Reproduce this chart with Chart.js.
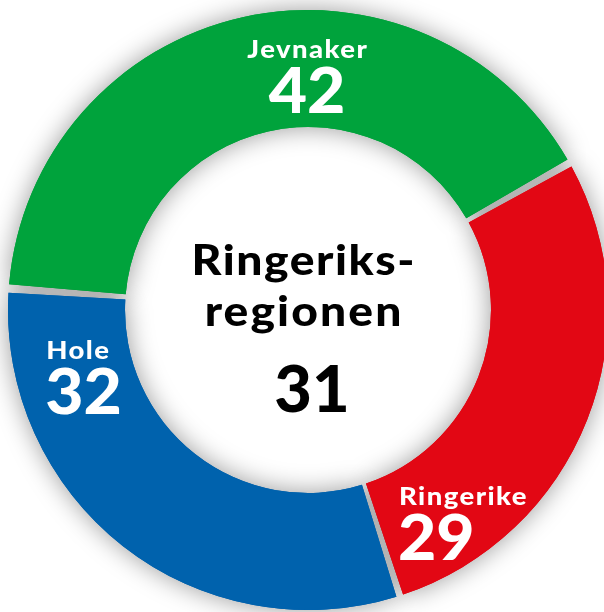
<!DOCTYPE html>
<html>
<head>
<meta charset="utf-8">
<script src="https://cdn.jsdelivr.net/npm/chart.js@4"></script>
<style>
    html, body { margin: 0; padding: 0; background: #fff; overflow: hidden; }
    #wrap { position: relative; width: 620px; height: 612px; }
</style>
</head>
<body>
<div id="wrap"><canvas id="ringChart"></canvas></div>
<script>
const categories = ['Jevnaker', 'Ringerike', 'Hole'];
const values = [42, 29, 32];
const segmentColors = ['#00a33c', '#e20714', '#0062ad'];
const centerLines = ['Ringeriks-', 'regionen'];
const centerValue = 31;

const FONT = 'Lato, "Open Sans", sans-serif';

// Skygge rundt ringen (tegnes under selve buene)
const shadowPlugin = {
    id: 'ringShadow',
    beforeDatasetsDraw(chart) {
        const ctx = chart.ctx;
        ctx.save();
        ctx.shadowColor = 'rgba(0,0,0,0.4)';
        ctx.shadowBlur = 26;
        chart.getDatasetMeta(0).data.forEach(arc => arc.draw(ctx));
        ctx.restore();
    }
};

// tekst med litt bredere bokstaver (skalert i x) og bokstavavstand
function wideText(ctx, text, x, y, font, spacing, sx, align) {
    ctx.save();
    ctx.translate(x, y);
    ctx.scale(sx, 1);
    ctx.font = font;
    ctx.letterSpacing = spacing + 'px';
    ctx.textAlign = align;
    ctx.fillText(text, align === 'center' ? spacing / 2 : 0, 0);
    ctx.restore();
}

// Etiketter i segmentene + tekst i midten
const labelPlugin = {
    id: 'ringLabels',
    afterDatasetsDraw(chart, args, opts) {
        const ctx = chart.ctx;
        const arc0 = chart.getDatasetMeta(0).data[0];
        const cx = arc0.x, cy = arc0.y, R = arc0.outerRadius;
        ctx.save();
        ctx.fillStyle = '#fff';
        ctx.textBaseline = 'alphabetic';
        categories.forEach((name, i) => {
            const p = opts.placements[i];
            const th = p.angle * Math.PI / 180;
            const x = cx + p.r * R * Math.sin(th);
            const y = cy - p.r * R * Math.cos(th);
            wideText(ctx, name, x, y, '900 25px ' + FONT, 1.3, 1.1, p.align);
            wideText(ctx, String(values[i]), x + (p.align === 'left' ? -1 : 0), y + 55,
                '900 63px ' + FONT, 0, 1.05, p.align);
        });
        ctx.fillStyle = '#000';
        wideText(ctx, centerLines[0], cx - 5, cy - 35, '900 42px ' + FONT, 1.4, 1.1, 'center');
        wideText(ctx, centerLines[1], cx - 5, cy + 16, '900 42px ' + FONT, 1.9, 1.1, 'center');
        wideText(ctx, String(centerValue), cx + 4, cy + 102, '900 65px ' + FONT, 0, 1.0, 'center');
        ctx.restore();
    }
};

new Chart(document.getElementById('ringChart'), {
    type: 'doughnut',
    data: {
        labels: categories,
        datasets: [{
            data: values,
            backgroundColor: segmentColors,
            borderWidth: 0,
            spacing: 6,
            hoverOffset: 0
        }]
    },
    options: {
        responsive: true,
        maintainAspectRatio: false,
        animation: false,
        events: [],
        rotation: -86,
        cutout: '60.6%',
        layout: { padding: { left: 8, right: 12, top: 10, bottom: 2 } },
        plugins: {
            legend: { display: false },
            tooltip: { enabled: false },
            ringLabels: {
                placements: [
                    { angle: -0.2, r: 0.848, align: 'center' },
                    { angle: 155.0, r: 0.725, align: 'left' },
                    { angle: 259.4, r: 0.897, align: 'left' }
                ]
            }
        }
    },
    plugins: [shadowPlugin, labelPlugin]
});
</script>
</body>
</html>
